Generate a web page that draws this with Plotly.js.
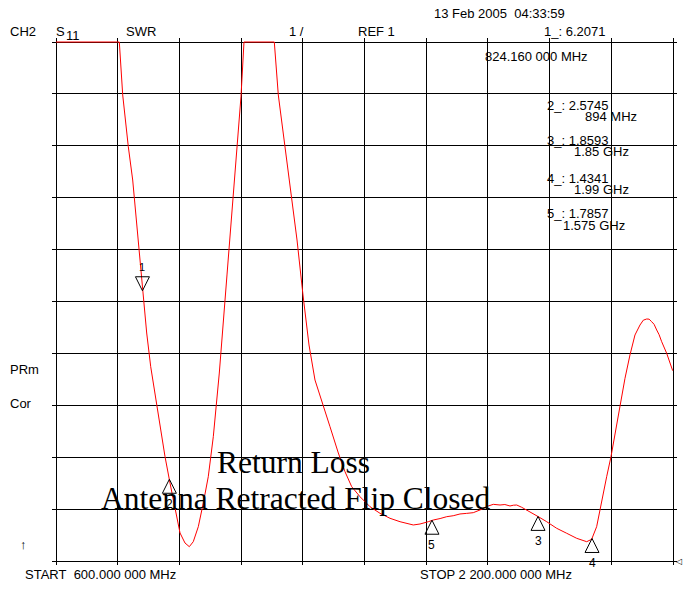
<!DOCTYPE html>
<html><head><meta charset="utf-8">
<script src="https://cdn.plot.ly/plotly-3.0.1.min.js"></script>
<style>html,body{margin:0;padding:0;background:#fff}#chart{width:684px;height:590px}</style>
</head><body><div id="chart"></div>
<script>
// Trace: SWR vs frequency (MHz); values at the top are clipped to the display (11)
const freqMHz = [600, 764.2, 773.0, 787.5, 798.9, 815.2, 824.8, 835.2, 845.6, 856.7, 869.7, 882.7, 895.6, 908.6, 921.6, 934.5, 945.7, 956.0, 969.0, 982.0, 994.9, 1007.9, 1023.5, 1043.4, 1062.4, 1079.7, 1087.5, 1166.1, 1176.5, 1193.8, 1206.8, 1225.0, 1240.5, 1256.1, 1271.6, 1289.0, 1310.5, 1332.1, 1349.4, 1366.8, 1388.3, 1414.3, 1440.2, 1466.1, 1492.1, 1526.5, 1543.9, 1565.4, 1578.4, 1596.0, 1613.2, 1630.0, 1647.6, 1665.0, 1682.1, 1699.5, 1712.5, 1721.0, 1734.0, 1742.0, 1751.4, 1764.0, 1777.3, 1786.0, 1794.7, 1807.6, 1829.2, 1850.7, 1872.5, 1898.4, 1924.4, 1950.3, 1976.2, 1989.1, 2002.0, 2015.1, 2028.0, 2039.2, 2051.4, 2062.5, 2075.5, 2088.4, 2101.4, 2114.4, 2123.0, 2131.8, 2138.0, 2144.7, 2151.0, 2157.7, 2164.0, 2170.7, 2183.6, 2199.2];
const swr = [11, 11, 9.979, 8.983, 8.341, 6.992, 6.222, 5.393, 4.744, 4.237, 3.588, 3.010, 2.503, 1.983, 1.540, 1.347, 1.276, 1.372, 1.661, 2.118, 2.624, 3.395, 4.622, 6.511, 8.341, 9.946, 11, 11, 9.979, 8.983, 8.341, 7.185, 6.125, 5.162, 4.487, 4.102, 3.588, 3.081, 2.721, 2.432, 2.239, 2.046, 1.919, 1.823, 1.757, 1.694, 1.713, 1.757, 1.790, 1.818, 1.854, 1.872, 1.906, 1.918, 1.931, 1.983, 2.035, 2.060, 2.092, 2.081, 2.079, 2.088, 2.060, 2.075, 2.079, 2.035, 1.950, 1.854, 1.757, 1.630, 1.534, 1.437, 1.372, 1.418, 1.661, 2.175, 2.624, 3.010, 3.524, 4.039, 4.520, 4.969, 5.355, 5.547, 5.640, 5.663, 5.660, 5.611, 5.560, 5.451, 5.360, 5.225, 5.002, 4.667];

// Markers
const markerNames = ['1', '2', '3', '4', '5'];
const markerFreqMHz = [824.16, 894, 1850, 1990, 1575];
const markerSWR = [6.2071, 2.5745, 1.8593, 1.4341, 1.7857];
const markerReadoutValue = ['1_: 6.2071', '2_: 2.5745', '3_: 1.8593', '4_: 1.4341', '5_: 1.7857'];
const markerReadoutFreq = ['824.160 000 MHz', '894 MHz', '1.85 GHz', '1.99 GHz', '1.575 GHz'];

// Axis scale: START/STOP, 10 divisions; REF 1, 1 per division
const startMHz = 600, stopMHz = 2200, divMHz = 160;
const refSWR = 1, perDivSWR = 1, nDiv = 10;

// plot-area geometry (pixels): graticule 56..673 x 42..561, with 4px padding so edge lines are drawn
const L = 52, T = 38, W = 625, H = 527;
const mhzPerPx = (stopMHz - startMHz) / 617, swrPerPx = (perDivSWR * nDiv) / 519;
const xPad = 4 * mhzPerPx, yPad = 4 * swrPerPx;
function P(px, py) { return {x: (px - L) / W, y: (T + H - py) / H}; }

const txt = (text, px, py, opt = {}) => Object.assign({
  text: text, xref: 'paper', yref: 'paper', x: P(px, py).x, y: P(px, py).y,
  xanchor: 'left', yanchor: 'middle', showarrow: false, borderpad: 0,
  font: {family: 'Liberation Sans, Arial, sans-serif', size: 13, color: '#000'}
}, opt);

const nb = '\u00a0';
const serif = {family: 'Liberation Serif, Times New Roman, serif', size: 31.5, color: '#000'};
const annotations = [
  txt('13 Feb 2005' + nb + nb + '04:33:59', 432.5, 13),
  txt('CH2', 9, 32),
  txt('S', 55, 32),
  txt('11', 65, 35),
  txt('SWR', 125, 32),
  txt('1' + nb + '/', 288, 32),
  txt('REF 1', 357, 32),
  txt(markerReadoutValue[0], 543, 32),
  txt(markerReadoutFreq[0], 483.5, 56),
  txt(markerReadoutValue[1], 545.5, 105.5),
  txt(markerReadoutFreq[1], 583.5, 116.5),
  txt(markerReadoutValue[2], 545.5, 140),
  txt(markerReadoutFreq[2], 573, 151.5),
  txt(markerReadoutValue[3], 545.5, 178),
  txt(markerReadoutFreq[3], 573, 189),
  txt(markerReadoutValue[4], 545.5, 213.5),
  txt(markerReadoutFreq[4], 562, 225),
  txt('PRm', 8.5, 369),
  txt('Cor', 8.5, 403.5),
  txt('\u2191', 23, 544, {xanchor: 'center'}),
  txt('START' + nb + nb + '600.000 000 MHz', 24, 574.5),
  txt('STOP 2 200.000 000 MHz', 419, 574.5),
  txt('\u25C1', 678, 561, {xanchor: 'center', font: {family: 'DejaVu Sans', size: 8, color: '#000'}}),
  txt('Return Loss', 293, 462.5, {xanchor: 'center', font: serif}),
  txt('Antenna Retracted Flip Closed', 295.5, 498.5, {xanchor: 'center', font: serif})
];
// marker number labels (below the up-markers, above marker 1)
markerNames.forEach((n, i) => {
  annotations.push({
    text: n, x: markerFreqMHz[i], y: markerSWR[i], xref: 'x', yref: 'y',
    showarrow: false, xanchor: 'center', yanchor: 'middle', borderpad: 0,
    yshift: i === 0 ? 24 : -25,
    font: {family: 'Liberation Sans, Arial, sans-serif', size: i === 0 ? 11 : 12, color: '#000'}
  });
});

const traces = [
  {x: freqMHz, y: swr, type: 'scatter', mode: 'lines', line: {color: '#ff0000', width: 1}, hoverinfo: 'skip'},
  {x: markerFreqMHz, y: markerSWR, type: 'scatter', mode: 'markers', hoverinfo: 'skip',
   marker: {symbol: markerNames.map((n, i) => i === 0 ? 'arrow-down-open' : 'arrow-up-open'),
            size: 14, color: '#000', line: {color: '#000', width: 1}}}
];

const layout = {
  width: 684, height: 590,
  margin: {l: L, r: 684 - L - W, t: T, b: 590 - T - H, pad: 0},
  paper_bgcolor: '#fff', plot_bgcolor: '#fff',
  showlegend: false, hovermode: false,
  xaxis: {range: [startMHz - xPad, stopMHz + xPad], tick0: startMHz, dtick: divMHz, tickmode: 'linear',
          showgrid: true, gridcolor: '#000', gridwidth: 1, zeroline: false, showline: false,
          showticklabels: false, ticks: '', fixedrange: true},
  yaxis: {range: [refSWR - yPad, refSWR + perDivSWR * nDiv + yPad], tick0: refSWR, dtick: perDivSWR, tickmode: 'linear',
          showgrid: true, gridcolor: '#000', gridwidth: 1, zeroline: false, showline: false,
          showticklabels: false, ticks: '', fixedrange: true},
  annotations: annotations
};

Plotly.newPlot('chart', traces, layout, {displayModeBar: false, staticPlot: true});
</script>
</body></html>
